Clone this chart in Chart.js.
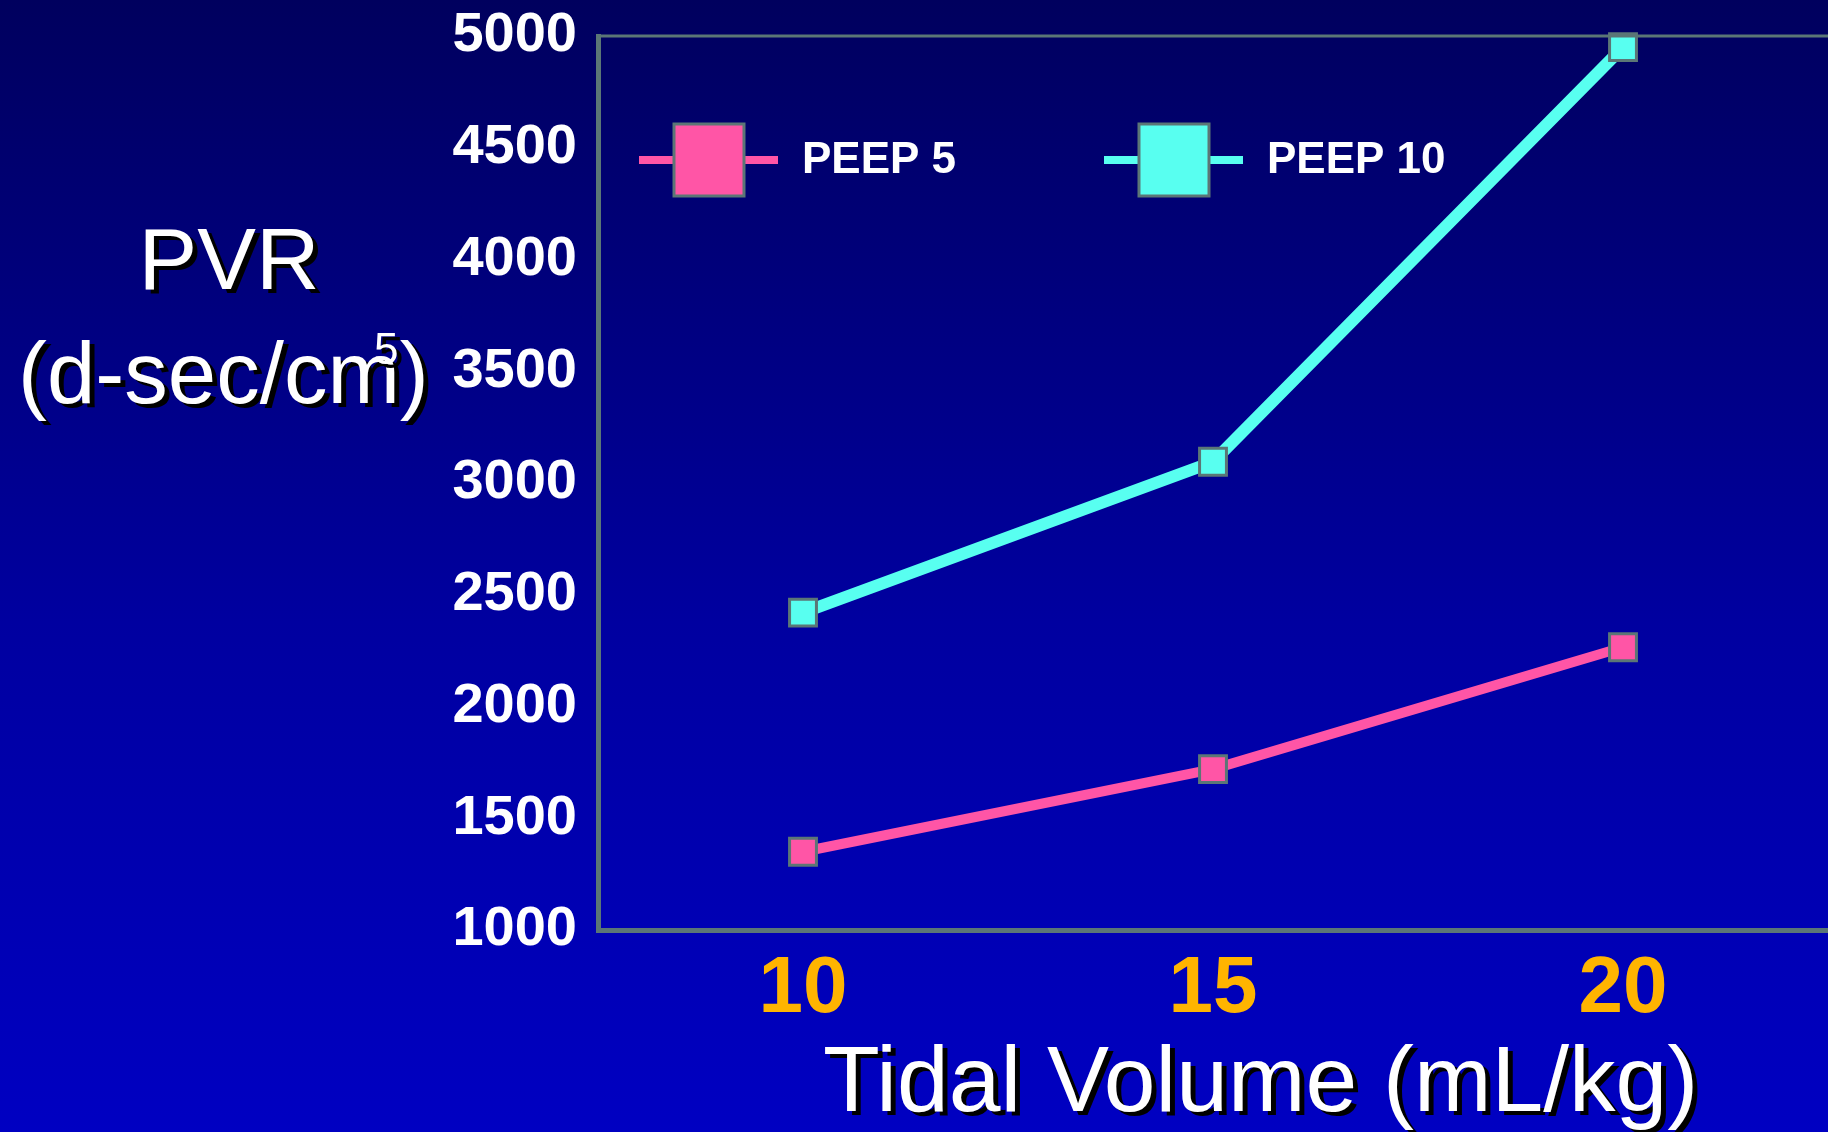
<!DOCTYPE html>
<html lang="en">
<head>
    <meta charset="UTF-8">
    <title>PVR vs Tidal Volume</title>
    <script src="https://cdn.jsdelivr.net/npm/chart.js"></script>
    <style>
        html, body {
            margin: 0;
            padding: 0;
        }
        body {
            width: 1828px;
            height: 1132px;
            overflow: hidden;
            background: linear-gradient(to bottom, #00005e 0%, #0000a0 55%, #0000c2 100%);
            font-family: "Liberation Sans", Arial, sans-serif;
        }
        .container {
            position: relative;
            width: 1828px;
            height: 1132px;
        }
    </style>
</head>
<body>
    <div class="container">
        <canvas id="pvrChart"></canvas>
    </div>

    <script>
        // data
        const tidalVolumes = ['10', '15', '20'];
        const peep5 = [1350, 1720, 2265];
        const peep10 = [2420, 3095, 4950];
        const seriesNames = ['PEEP 5', 'PEEP 10'];

        const pink = '#ff55a6';
        const cyan = '#58fff0';
        const frameGray = '#5b7676';
        const fontFamily = '"Liberation Sans", Arial, sans-serif';

        function shadowText(ctx, text, x, y, font, align) {
            ctx.font = font;
            ctx.textAlign = align || 'left';
            ctx.textBaseline = 'alphabetic';
            ctx.fillStyle = '#000000';
            ctx.fillText(text, x + 5, y + 4);
            ctx.fillStyle = '#ffffff';
            ctx.fillText(text, x, y);
        }

        // titles, top frame line and the legend drawn like the slide
        const slideDecor = {
            id: 'slideDecor',
            afterDraw(chart) {
                const ctx = chart.ctx;
                const area = chart.chartArea;
                ctx.save();

                // top frame line
                ctx.strokeStyle = frameGray;
                ctx.lineWidth = 3;
                ctx.beginPath();
                ctx.moveTo(area.left, area.top);
                ctx.lineTo(area.right, area.top);
                ctx.stroke();

                // y title
                shadowText(ctx, 'PVR', 229, 289, '88px ' + fontFamily, 'center');
                shadowText(ctx, '(d-sec/cm)', 18, 403, '87px ' + fontFamily, 'left');
                shadowText(ctx, '5', 374, 364, '44px ' + fontFamily, 'left');

                // x title
                shadowText(ctx, 'Tidal Volume (mL/kg)', 823, 1111, '93px ' + fontFamily, 'left');

                // legend
                const legendX = [area.left + 41, area.left + 506];
                const legendY = area.top + 124;
                chart.data.datasets.forEach((ds, i) => {
                    const x0 = legendX[i];
                    ctx.fillStyle = ds.borderColor;
                    ctx.fillRect(x0, legendY - 4, 139, 8);
                    ctx.fillRect(x0 + 35, legendY - 36, 70, 72);
                    ctx.strokeStyle = frameGray;
                    ctx.lineWidth = 3;
                    ctx.strokeRect(x0 + 35, legendY - 36, 70, 72);
                    ctx.font = 'bold 44px ' + fontFamily;
                    ctx.textAlign = 'left';
                    ctx.textBaseline = 'alphabetic';
                    ctx.fillStyle = '#ffffff';
                    ctx.fillText(ds.label, x0 + 163, legendY + 13);
                });

                ctx.restore();
            }
        };

        let ctx = document.getElementById('pvrChart').getContext('2d');

        let chart = new Chart(ctx, {
            type: 'line',
            data: {
                labels: tidalVolumes,
                datasets: [{
                    label: seriesNames[0],
                    data: peep5,
                    borderColor: pink,
                    backgroundColor: pink,
                    borderWidth: 10,
                    pointStyle: 'rect',
                    pointRadius: 19,
                    pointBackgroundColor: pink,
                    pointBorderColor: frameGray,
                    pointBorderWidth: 3,
                    tension: 0,
                    clip: false
                }, {
                    label: seriesNames[1],
                    data: peep10,
                    borderColor: cyan,
                    backgroundColor: cyan,
                    borderWidth: 12,
                    pointStyle: 'rect',
                    pointRadius: 19,
                    pointBackgroundColor: cyan,
                    pointBorderColor: frameGray,
                    pointBorderWidth: 3,
                    tension: 0,
                    clip: false
                }]
            },
            options: {
                responsive: true,
                maintainAspectRatio: false,
                animation: false,
                layout: {
                    autoPadding: false,
                    padding: { top: 36, left: 0, right: 0, bottom: 0 }
                },
                plugins: {
                    legend: { display: false },
                    tooltip: { enabled: false }
                },
                scales: {
                    x: {
                        offset: true,
                        grid: { display: false, drawTicks: false },
                        border: { display: true, color: frameGray, width: 5 },
                        ticks: {
                            color: '#ffb400',
                            padding: 12,
                            font: { family: fontFamily, size: 80, weight: 'bold' }
                        },
                        afterFit(scale) {
                            scale.height = 202;
                            scale.paddingLeft = 0;
                            scale.paddingRight = 0;
                        }
                    },
                    y: {
                        min: 1000,
                        max: 5000,
                        grid: { display: false, drawTicks: false },
                        border: { display: true, color: frameGray, width: 5 },
                        ticks: {
                            stepSize: 500,
                            color: '#ffffff',
                            padding: 21,
                            font: { family: fontFamily, size: 56, weight: 'bold' },
                            callback: (value) => String(value)
                        },
                        afterFit(scale) {
                            scale.width = 598;
                            scale.paddingTop = 0;
                            scale.paddingBottom = 0;
                        }
                    }
                }
            },
            plugins: [slideDecor]
        });
    </script>
</body>
</html>
